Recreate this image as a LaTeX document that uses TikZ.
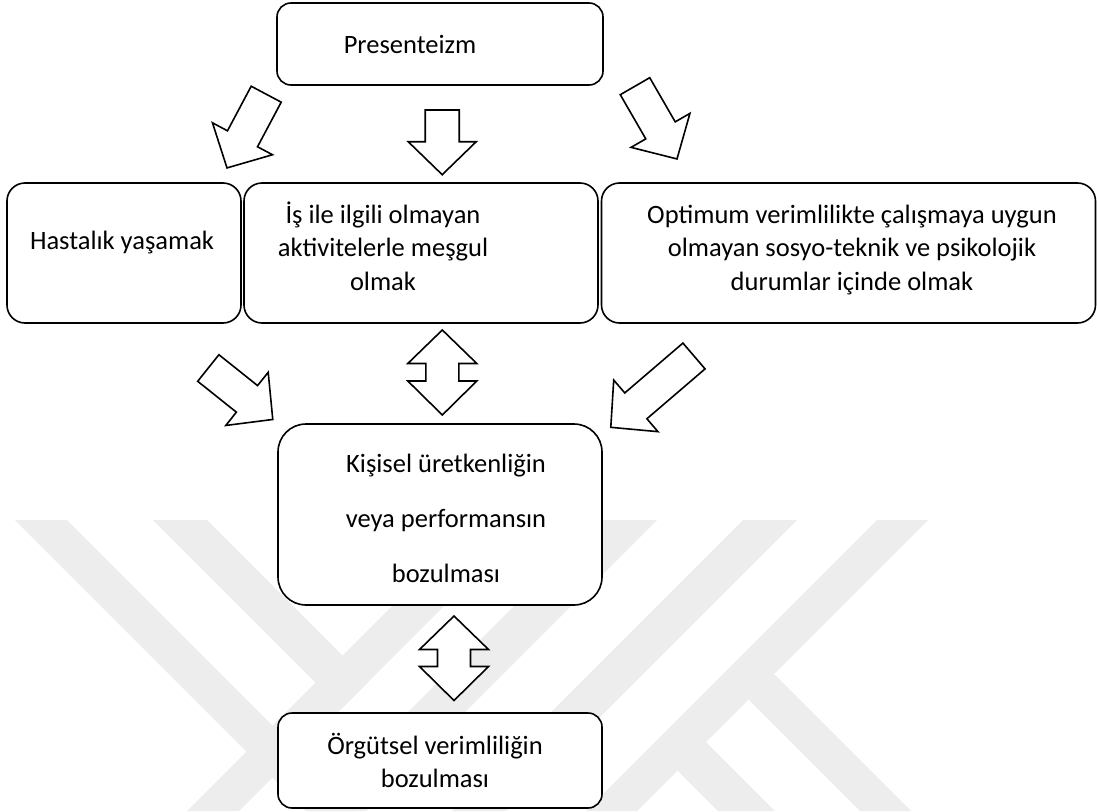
\documentclass[tikz,border=0pt]{standalone}
\usepackage{fontspec}
\setmainfont{Carlito}

% block arrow: tail centre, angle, shaft length
\newcommand\blockarr[3]{%
  \draw[blk, shift={#1}, rotate=#2]
    (0,-17) -- (#3,-17) -- (#3,-34) -- ({#3+33},0) -- (#3,34) -- (#3,17) -- (0,17) -- cycle;}
% double block arrow (vertical): top tip, length
\newcommand\dblarr[2]{%
  \draw[blk, shift={#1}]
    (0,0) -- (34.5,33.5) -- (16.5,33.5) -- (16.5,{#2-34}) -- (34.5,{#2-34}) -- (0,#2)
    -- (-34.5,{#2-34}) -- (-16.5,{#2-34}) -- (-16.5,33.5) -- (-34.5,33.5) -- cycle;}

\begin{document}
\begin{tikzpicture}[x=1pt, y=-1pt,
    box/.style = {rectangle, draw, fill=white, line width=1.6pt,% frames
                  inner sep=0pt, outer sep=0pt},
    txt/.style = {align=center, inner sep=0pt,% texts in frames
                  font=\fontsize{26.5}{33.5}\selectfont},
    blk/.style = {draw, fill=white, line width=1.6pt},% block arrows
     wm/.style = {fill=black!7},% watermark bands
                        ]
\useasboundingbox (0,0) rectangle (1097,811);
% watermark
\begin{scope}
\clip (0,520) rectangle (1097,811);
\foreach \a/\b/\c/\d in {{(15,520)}/{(67,520)}/{(358,811)}/{(306,811)},
                         {(153,520)}/{(207,520)}/{(368.5,681.5)}/{(341.5,708.5)},
                         {(478,520)}/{(530,520)}/{(239,811)}/{(187,811)},
                         {(600,520)}/{(657,520)}/{(366,811)}/{(309,811)},
                         {(743,520)}/{(797,520)}/{(506,811)}/{(452,811)},
                         {(877,520)}/{(928,520)}/{(637,811)}/{(586,811)},
                         {(774,674)}/{(911,811)}/{(860,811)}/{(748.5,699.5)},
                         {(702,738)}/{(775,811)}/{(718,811)}/{(673.5,766.5)}}
    \fill[wm] \a -- \b -- \c -- \d -- cycle;
\end{scope}
% frames
\node[box, minimum width=326, minimum height=82,  rounded corners=14pt] (pres) at (440,44) {};
\node[box, minimum width=234, minimum height=140, rounded corners=18pt] (hast) at (124,253) {};
\node[box, minimum width=354, minimum height=140, rounded corners=18pt] (isil) at (421,253) {};
\node[box, minimum width=494, minimum height=140, rounded corners=18pt] (opti) at (848.5,253) {};
\node[box, minimum width=324, minimum height=181, rounded corners=28pt] (kisi) at (440,514.5) {};
\node[box, minimum width=324, minimum height=95,  rounded corners=14pt] (orgu) at (440,760.5) {};
% texts
\node[txt] (presT) at (410,44)  {Presenteizm};
\node[txt] (hastT) at (122,243) {Hastalık yaşamak};
\node[txt] (isilT) at (383,246) {İş ile ilgili olmayan\\ aktivitelerle meşgul\\ olmak};
\node[txt] (optiT) at (852,250) {Optimum verimlilikte çalışmaya uygun\\ olmayan sosyo-teknik ve psikolojik\\ durumlar içinde olmak};
\node[txt] (kisiT) at (446,518) {Kişisel üretkenliğin\\[21.5pt] veya performansın\\[21.5pt] bozulması};
\node[txt] (orguT) at (435,760.5) {Örgütsel verimliliğin\\ bozulması};
% arrows
\blockarr{(266.2,94.2)}{-118}{50.5}
\blockarr{(442.2,110)}{-90}{31.7}
\blockarr{(635,86.2)}{-60}{51}
\blockarr{(208.3,368)}{-38.6}{49.5}
\blockarr{(694,356)}{-139.4}{76.6}
\dblarr{(442.3,330)}{85}
\dblarr{(454,616)}{84.5}
\end{tikzpicture}
\end{document}
